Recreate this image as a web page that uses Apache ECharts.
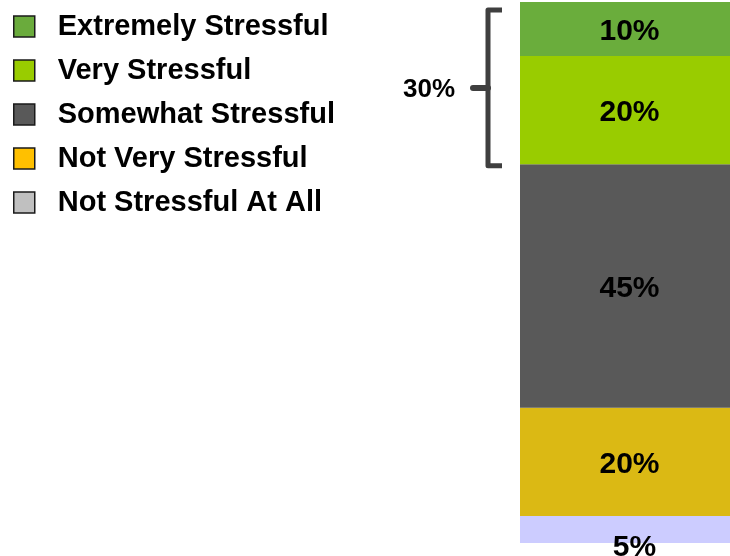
<!DOCTYPE html>
<html>
<head>
<meta charset="utf-8">
<style>
  html, body { margin: 0; padding: 0; background: #ffffff; }
  #chart { width: 730px; height: 556px; }
</style>
<script src="https://cdn.jsdelivr.net/npm/echarts@6/dist/echarts.min.js"></script>
</head>
<body>
<div id="chart"></div>
<script>
// Stress level shares, listed top of the bar to bottom
const categories = [''];
const levels = ['Extremely Stressful', 'Very Stressful', 'Somewhat Stressful', 'Not Very Stressful', 'Not Stressful At All'];
const shares = [10, 20, 45, 20, 5];
const barColors = ['#6aad3c', '#99cc00', '#595959', '#dbb914', '#ccccff'];
const legendColors = ['#6aab3c', '#99cc00', '#595959', '#ffc000', '#c0c0c0'];
// The two most stressful levels are bracketed together
const bracketCount = 2;

const FONT = '"Liberation Sans", Arial, sans-serif';
const chart = echarts.init(document.getElementById('chart'), null, { renderer: 'canvas' });

const bracketTotal = shares.slice(0, bracketCount).reduce((a, b) => a + b, 0);

// Bars are stacked from the bottom up, so walk the levels in reverse
const barSeries = levels.map((name, i) => ({
  name: name,
  type: 'bar',
  stack: 'total',
  barWidth: '100%',
  data: [shares[i]],
  itemStyle: { color: barColors[i] },
  label: {
    show: true,
    position: 'inside',
    offset: i === levels.length - 1 ? [9.5, 18.5] : [4.5, 2.5],
    formatter: '{c}%',
    color: '#000000',
    fontFamily: FONT,
    fontWeight: 'bold',
    fontSize: 30
  },
  emphasis: { disabled: true }
})).reverse();

const bracketSeries = {
  type: 'custom',
  name: 'bracket',
  z: 5,
  silent: true,
  data: [[0, 100 - bracketTotal, 100]],
  renderItem: function (params, api) {
    const xMid = api.coord([api.value(0), 0])[0];
    const band = api.size([1, 0])[0];
    const barLeft = xMid - band / 2;
    const yTop = api.coord([0, api.value(2)])[1] + 8;
    const yBot = api.coord([0, api.value(1)])[1] + 1.5;
    const xLine = barLeft - 32;
    const xArm = barLeft - 18;
    const yTick = (yTop + yBot) / 2;
    const stroke = { stroke: '#3f3f3f', lineWidth: 5, fill: null, lineJoin: 'round', lineCap: 'butt' };
    return {
      type: 'group',
      children: [
        {
          type: 'polyline',
          shape: { points: [[xArm, yTop], [xLine, yTop], [xLine, yBot], [xArm, yBot]] },
          style: stroke
        },
        {
          type: 'line',
          shape: { x1: xLine - 15, y1: yTick, x2: xLine, y2: yTick },
          style: { stroke: '#3f3f3f', lineWidth: 6, lineCap: 'round' }
        },
        {
          type: 'text',
          style: {
            x: xLine - 33,
            y: yTick + 1.5,
            text: bracketTotal + '%',
            align: 'right',
            verticalAlign: 'middle',
            fill: '#000000',
            font: 'bold 26px ' + FONT
          }
        }
      ]
    };
  }
};

chart.setOption({
  animation: false,
  backgroundColor: '#ffffff',
  legend: {
    orient: 'vertical',
    left: 8,
    top: 7,
    itemWidth: 21,
    itemHeight: 21,
    itemGap: 15,
    icon: 'rect',
    selectedMode: false,
    data: levels.map((name, i) => ({
      name: name,
      itemStyle: { color: legendColors[i], borderColor: '#1a1a1a', borderWidth: 1.5 }
    })),
    textStyle: {
      color: '#000000',
      fontFamily: FONT,
      fontWeight: 'bold',
      fontSize: 29,
      padding: [0, 0, 0, 18]
    }
  },
  grid: { left: 520, right: 0, top: 2, bottom: 13, containLabel: false },
  xAxis: { type: 'category', data: categories, show: false },
  yAxis: { type: 'value', min: 0, max: 100, show: false },
  series: barSeries.concat([bracketSeries])
});
</script>
</body>
</html>
